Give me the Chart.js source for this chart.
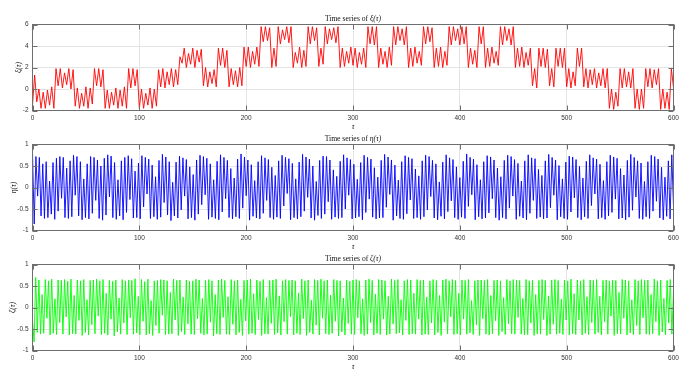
<!DOCTYPE html>
<html>
<head>
<meta charset="utf-8">
<script src="https://cdn.jsdelivr.net/npm/chart.js@4.4.1/dist/chart.umd.min.js"></script>
<style>
  html, body { margin: 0; padding: 0; background: #fff; }
  #wrap { position: relative; width: 694px; height: 379px; overflow: hidden; }
  canvas { position: absolute; left: 0; }
</style>
</head>
<body>
<div id="wrap">
  <canvas id="xi-chart"></canvas>
  <canvas id="eta-chart"></canvas>
  <canvas id="zeta-chart"></canvas>
</div>
<script>
// tau axis
const TAU_TICKS = [0, 100, 200, 300, 400, 500, 600];

const XI_STEP = 2;
const XI = [
  -1.5, 1.3, -1.2, 0.0, -1.8, -0.3, -1.8, -0.1, -1.5, 0.2,
  -1.8, 1.9, 0.3, 1.9, 0.1, 1.5, 0.4, 1.9, 0.0, 1.8,
  -1.6, 0.1, -1.8, -0.4, -1.6, 0.2, -1.8, 0.1, -1.4, 1.9,
  0.3, 1.9, 0.2, 1.8, -1.8, -0.1, -1.8, -0.3, -1.5, 0.1,
  -1.8, -0.1, -1.6, 0.2, -1.8, 1.9, 0.1, 1.9, 0.3, 1.8,
  -1.8, 0.0, -1.8, -0.4, -1.5, 0.1, -1.8, 0.0, -1.6, 1.8,
  0.2, 1.9, 0.1, 1.6, 0.4, 1.9, 0.2, 1.8, 0.4, 3.0,
  2.4, 3.8, 2.0, 3.3, 2.3, 3.8, 2.0, 3.6, 2.5, 3.7,
  0.3, 2.0, 0.2, 1.6, 0.5, 1.8, 0.2, 3.8, 2.2, 3.8,
  2.0, 3.6, 0.2, 1.9, 0.4, 1.7, 0.2, 2.0, 0.3, 3.9,
  2.1, 3.9, 2.0, 3.5, 2.3, 3.9, 2.1, 5.8, 4.4, 5.8,
  4.5, 5.7, 2.0, 3.8, 2.1, 5.8, 4.2, 5.5, 4.6, 5.8,
  4.3, 5.8, 2.0, 3.4, 2.4, 3.9, 2.0, 3.6, 2.1, 5.8,
  4.2, 5.8, 4.5, 5.7, 2.1, 3.8, 2.3, 5.8, 4.2, 5.6,
  4.6, 5.7, 4.3, 5.8, 2.0, 3.8, 2.1, 3.5, 2.4, 3.9,
  2.2, 3.8, 2.0, 3.4, 2.3, 3.8, 2.0, 5.8, 4.2, 5.8,
  4.1, 5.8, 2.0, 3.8, 2.3, 3.5, 2.0, 3.9, 2.2, 5.8,
  4.1, 5.8, 4.5, 5.6, 4.1, 5.8, 2.0, 3.8, 2.1, 3.9,
  2.4, 3.5, 2.2, 5.8, 4.2, 5.8, 4.4, 5.7, 2.0, 3.8,
  2.1, 3.9, 2.0, 3.5, 2.2, 5.8, 4.1, 5.8, 4.5, 5.6,
  4.1, 5.8, 4.2, 5.8, 2.0, 3.8, 2.3, 3.6, 2.0, 5.8,
  4.2, 5.8, 2.0, 3.8, 2.1, 3.9, 2.4, 3.5, 2.2, 5.8,
  4.1, 5.8, 4.5, 5.6, 4.1, 5.8, 2.0, 3.8, 2.1, 3.9,
  2.0, 3.4, 2.2, 3.8, 0.3, 1.9, 0.1, 3.8, 2.1, 3.8,
  2.0, 3.7, 0.3, 1.9, 0.2, 3.8, 2.1, 3.8, 2.0, 3.8,
  0.2, 1.9, 0.1, 1.6, 0.3, 3.8, 2.1, 3.8, 0.2, 1.9,
  0.1, 1.8, 0.4, 1.9, 0.1, 1.5, 0.3, 1.9, 0.1, 1.9,
  -1.8, 0.0, -1.9, -0.3, -1.6, 1.9, 0.1, 1.9, 0.2, 1.6,
  0.1, 1.9, -1.8, 0.0, -1.9, 0.0, -1.8, 1.9, 0.2, 1.9,
  0.1, 1.8, 0.4, 1.9, -1.9, 0.0, -1.8, -0.3, -1.9, 1.9,
  0.1
];
const XI_TICKS = [-2, 0, 2, 4, 6];

// eta(tau), sampled every 1.6 units of tau
const ETA_STEP = 1.6;
const ETA = [
  0.80, -0.85, 0.72, -0.20, 0.70, -0.66, 0.55, -0.72, 0.60, -0.70, 0.15, -0.62, 0.58, -0.74, 0.68, -0.55, 0.72, -0.25, 0.70, -0.70,
  0.45, -0.72, 0.62, -0.68, 0.75, -0.18, 0.72, -0.66, 0.60, -0.75, 0.20, -0.70, 0.55, -0.73, 0.72, -0.60, 0.70, -0.30, 0.64, -0.72,
  0.50, -0.76, 0.68, -0.64, 0.76, -0.22, 0.73, -0.70, 0.58, -0.74, 0.18, -0.66, 0.62, -0.75, 0.70, -0.58, 0.74, -0.28, 0.67, -0.71,
  0.38, -0.70, 0.57, -0.73, 0.74, -0.45, 0.70, -0.15, 0.66, -0.72, 0.52, -0.68, 0.25, -0.74, 0.63, -0.69, 0.77, -0.35, 0.71, -0.64,
  0.60, -0.77, 0.12, -0.66, 0.59, -0.71, 0.73, -0.52, 0.69, -0.20, 0.65, -0.73, 0.48, -0.70, 0.30, -0.76, 0.64, -0.62, 0.75, -0.40,
  0.72, -0.17, 0.68, -0.74, 0.55, -0.69, 0.18, -0.72, 0.61, -0.75, 0.76, -0.57, 0.70, -0.26, 0.63, -0.70, 0.44, -0.73, 0.22, -0.68,
  0.66, -0.72, 0.78, -0.48, 0.71, -0.19, 0.64, -0.76, 0.53, -0.67, 0.16, -0.71, 0.60, -0.73, 0.74, -0.60, 0.69, -0.30, 0.65, -0.70,
  0.47, -0.74, 0.28, -0.69, 0.62, -0.72, 0.75, -0.43, 0.70, -0.14, 0.67, -0.75, 0.56, -0.70, 0.20, -0.73, 0.59, -0.68, 0.77, -0.55,
  0.71, -0.23, 0.66, -0.71, 0.50, -0.76, 0.14, -0.65, 0.63, -0.72, 0.73, -0.62, 0.72, -0.33, 0.64, -0.74, 0.41, -0.69, 0.26, -0.72,
  0.61, -0.70, 0.76, -0.50, 0.69, -0.18, 0.65, -0.73, 0.54, -0.71, 0.19, -0.68, 0.58, -0.75, 0.75, -0.58, 0.70, -0.27, 0.66, -0.69,
  0.46, -0.73, 0.24, -0.71, 0.63, -0.70, 0.77, -0.46, 0.71, -0.16, 0.64, -0.76, 0.52, -0.66, 0.17, -0.72, 0.60, -0.74, 0.74, -0.61,
  0.70, -0.29, 0.67, -0.72, 0.43, -0.70, 0.27, -0.74, 0.62, -0.68, 0.75, -0.52, 0.72, -0.21, 0.63, -0.71, 0.55, -0.75, 0.13, -0.67,
  0.59, -0.73, 0.76, -0.56, 0.69, -0.31, 0.65, -0.70, 0.48, -0.74, 0.23, -0.69, 0.61, -0.72, 0.78, -0.44, 0.70, -0.17, 0.66, -0.75,
  0.53, -0.68, 0.18, -0.73, 0.60, -0.71, 0.74, -0.59, 0.71, -0.26, 0.64, -0.70, 0.45, -0.76, 0.25, -0.70, 0.63, -0.73, 0.75, -0.48,
  0.72, -0.20, 0.65, -0.74, 0.56, -0.67, 0.15, -0.71, 0.62, -0.75, 0.76, -0.60, 0.69, -0.30, 0.67, -0.72, 0.42, -0.69, 0.28, -0.73,
  0.62, -0.71, 0.77, -0.47, 0.70, -0.18, 0.64, -0.75, 0.51, -0.68, 0.20, -0.72, 0.59, -0.74, 0.73, -0.57, 0.71, -0.24, 0.65, -0.70,
  0.49, -0.75, 0.22, -0.68, 0.61, -0.72, 0.76, -0.42, 0.69, -0.15, 0.66, -0.73, 0.54, -0.70, 0.16, -0.74, 0.60, -0.66, 0.75, -0.58,
  0.71, -0.27, 0.68, -0.73, 0.44, -0.71, 0.29, -0.75, 0.63, -0.69, 0.77, -0.53, 0.70, -0.22, 0.62, -0.72, 0.57, -0.74, 0.14, -0.68,
  0.60, -0.72, 0.75, -0.55, 0.72, -0.32, 0.66, -0.71, 0.47, -0.75, 0.24, -0.67, 0.62, -0.73, 0.76, -0.45
];
const ETA_TICKS = [-1, -0.5, 0, 0.5, 1];

// zeta(tau), sampled every 1.5 units of tau
const ZETA_STEP = 1.5;
const ZETA = [
  -0.30, -0.80, 0.70, -0.58, 0.64, -0.62, 0.30, -0.60, 0.65, -0.25, 0.62, -0.64, 0.66, -0.60, 0.20, -0.63, 0.64, -0.35, 0.63, -0.62,
  0.65, -0.22, 0.61, -0.64, 0.66, -0.61, 0.28, -0.62, 0.64, -0.30, 0.62, -0.65, 0.65, -0.58, 0.18, -0.64, 0.63, -0.40, 0.64, -0.61,
  0.66, -0.20, 0.62, -0.63, 0.65, -0.60, 0.33, -0.64, 0.63, -0.27, 0.61, -0.66, 0.64, -0.57, 0.22, -0.62, 0.65, -0.36, 0.62, -0.63,
  0.64, -0.24, 0.63, -0.62, 0.67, -0.59, 0.26, -0.63, 0.65, -0.32, 0.60, -0.64, 0.66, -0.61, 0.16, -0.65, 0.62, -0.42, 0.63, -0.60,
  0.65, -0.18, 0.64, -0.63, 0.62, -0.62, 0.35, -0.61, 0.66, -0.29, 0.63, -0.65, 0.64, -0.56, 0.24, -0.63, 0.64, -0.38, 0.61, -0.62,
  0.62, -0.63, 0.66, -0.26, 0.64, -0.60, 0.21, -0.64, 0.63, -0.62, 0.65, -0.34, 0.62, -0.66, 0.30, -0.61, 0.64, -0.63, 0.66, -0.23,
  0.63, -0.62, 0.25, -0.63, 0.65, -0.39, 0.62, -0.64, 0.64, -0.58, 0.19, -0.65, 0.63, -0.31, 0.64, -0.62, 0.66, -0.60, 0.32, -0.63,
  0.64, -0.28, 0.61, -0.65, 0.65, -0.61, 0.23, -0.62, 0.63, -0.37, 0.64, -0.63, 0.66, -0.59, 0.27, -0.64, 0.62, -0.33, 0.65, -0.62,
  0.63, -0.21, 0.64, -0.64, 0.62, -0.60, 0.34, -0.63, 0.66, -0.26, 0.62, -0.65, 0.64, -0.58, 0.17, -0.62, 0.65, -0.41, 0.63, -0.64,
  0.66, -0.25, 0.62, -0.61, 0.64, -0.63, 0.29, -0.60, 0.65, -0.32, 0.63, -0.66, 0.62, -0.57, 0.22, -0.64, 0.64, -0.37, 0.61, -0.62,
  0.64, -0.63, 0.65, -0.24, 0.62, -0.61, 0.20, -0.65, 0.64, -0.62, 0.66, -0.35, 0.63, -0.64, 0.31, -0.60, 0.65, -0.63, 0.64, -0.27,
  0.62, -0.64, 0.26, -0.62, 0.66, -0.38, 0.63, -0.61, 0.65, -0.59, 0.18, -0.64, 0.62, -0.30, 0.65, -0.63, 0.64, -0.61, 0.33, -0.62,
  0.65, -0.27, 0.63, -0.64, 0.64, -0.62, 0.24, -0.63, 0.62, -0.36, 0.65, -0.64, 0.63, -0.58, 0.28, -0.65, 0.64, -0.34, 0.66, -0.61,
  0.62, -0.22, 0.65, -0.63, 0.63, -0.61, 0.33, -0.64, 0.64, -0.27, 0.63, -0.62, 0.65, -0.59, 0.16, -0.63, 0.62, -0.40, 0.64, -0.65,
  0.64, -0.26, 0.63, -0.62, 0.65, -0.64, 0.28, -0.61, 0.63, -0.31, 0.64, -0.65, 0.62, -0.56, 0.23, -0.63, 0.65, -0.38, 0.62, -0.61,
  0.65, -0.62, 0.64, -0.23, 0.63, -0.62, 0.21, -0.64, 0.65, -0.63, 0.62, -0.36, 0.64, -0.65, 0.30, -0.61, 0.63, -0.62, 0.65, -0.28,
  0.63, -0.65, 0.27, -0.62, 0.64, -0.39, 0.65, -0.62, 0.63, -0.60, 0.19, -0.63, 0.64, -0.29, 0.62, -0.64, 0.66, -0.61, 0.32, -0.63,
  0.64, -0.29, 0.62, -0.64, 0.65, -0.60, 0.25, -0.63, 0.64, -0.35, 0.63, -0.62, 0.65, -0.58, 0.26, -0.64, 0.63, -0.33, 0.64, -0.62,
  0.62, -0.20, 0.64, -0.65, 0.63, -0.61, 0.35, -0.62, 0.65, -0.25, 0.64, -0.64, 0.62, -0.59, 0.18, -0.63, 0.65, -0.42, 0.62, -0.63,
  0.65, -0.24, 0.63, -0.62, 0.64, -0.63, 0.30, -0.61, 0.66, -0.33, 0.62, -0.65, 0.64, -0.57, 0.21, -0.64, 0.63, -0.36, 0.65, -0.62,
  0.40
];
const ZETA_TICKS = [-1, -0.5, 0, 0.5, 1];

const BOX_COLOR = '#6e6e6e';
const GRID_COLOR = '#e4e4e4';
const LABEL_COLOR = '#333333';
const SERIF = '"Liberation Serif", "DejaVu Serif", serif';
const SANS = '"Liberation Sans", Arial, sans-serif';

// title, axis labels, box and inward ticks (matlab style)
const panelText = {
  id: 'panelText',
  afterDatasetsDraw(chart, args, opts) {
    const { ctx, chartArea: a, scales } = chart;
    ctx.save();

    ctx.strokeStyle = BOX_COLOR;
    ctx.lineWidth = 1;
    ctx.beginPath();
    scales.x.ticks.forEach((t) => {
      const px = Math.round(scales.x.getPixelForValue(t.value)) + 0.5;
      ctx.moveTo(px, a.bottom); ctx.lineTo(px, a.bottom - 5);
      ctx.moveTo(px, a.top); ctx.lineTo(px, a.top + 5);
    });
    scales.y.ticks.forEach((t) => {
      const py = Math.round(scales.y.getPixelForValue(t.value)) + 0.5;
      ctx.moveTo(a.left, py); ctx.lineTo(a.left + 5, py);
      ctx.moveTo(a.right, py); ctx.lineTo(a.right - 5, py);
    });
    ctx.stroke();
    ctx.strokeRect(a.left, a.top, a.right - a.left, a.bottom - a.top);

    ctx.fillStyle = '#111';
    ctx.textBaseline = 'middle';
    const cx = (a.left + a.right) / 2;

    // title: upright words, italic math
    ctx.font = `7.6px ${SERIF}`;
    const words = 'Time series of ';
    const w1 = ctx.measureText(words).width;
    ctx.font = `italic 7.6px ${SERIF}`;
    const w2 = ctx.measureText(opts.name).width;
    const x0 = cx - (w1 + w2) / 2;
    ctx.textAlign = 'left';
    ctx.font = `7.6px ${SERIF}`;
    ctx.fillText(words, x0, a.top - 5.5);
    ctx.font = `italic 7.6px ${SERIF}`;
    ctx.fillText(opts.name, x0 + w1, a.top - 5.5);

    // x label
    ctx.textAlign = 'center';
    ctx.fillText('τ', cx, a.bottom + 16.5);

    // y label
    ctx.translate(opts.yLabelX, (a.top + a.bottom) / 2);
    ctx.rotate(-Math.PI / 2);
    ctx.fillText(opts.name, 0, 0);
    ctx.restore();
  }
};

const makePanel = (id, top, height, padTop, axisBottom, values, step, yTicks, color, name, yLabelX) => {
  const canvas = document.getElementById(id);
  canvas.width = 694;
  canvas.height = height;
  canvas.style.top = `${top}px`;
  const points = values.map((v, i) => ({ x: i * step, y: v }));

  const config = {
    type: 'line',
    data: {
      datasets: [
        {
          data: points,
          borderColor: color,
          borderWidth: 0.9,
          pointRadius: 0,
          tension: 0,
          fill: false,
        },
      ],
    },
    options: {
      responsive: false,
      animation: false,
      events: [],
      layout: { padding: { left: 0, right: 20.5, top: padTop, bottom: 0 } },
      plugins: {
        legend: { display: false },
        tooltip: { enabled: false },
        panelText: { name: name, yLabelX: yLabelX },
      },
      scales: {
        x: {
          type: 'linear',
          min: TAU_TICKS[0],
          max: TAU_TICKS[TAU_TICKS.length - 1],
          afterBuildTicks: (scale) => { scale.ticks = TAU_TICKS.map((v) => ({ value: v })); },
          afterFit: (scale) => { scale.height = height - axisBottom; },
          grid: { color: GRID_COLOR, drawTicks: false, lineWidth: 1 },
          border: { display: false },
          ticks: { color: LABEL_COLOR, font: { family: SANS, size: 6.5 }, padding: 4, maxRotation: 0 },
        },
        y: {
          type: 'linear',
          min: yTicks[0],
          max: yTicks[yTicks.length - 1],
          afterBuildTicks: (scale) => { scale.ticks = yTicks.map((v) => ({ value: v })); },
          afterFit: (scale) => { scale.width = 32.5; },
          grid: { color: GRID_COLOR, drawTicks: false, lineWidth: 1 },
          border: { display: false },
          ticks: { color: LABEL_COLOR, font: { family: SANS, size: 6.5 }, padding: 4, callback: (v) => String(v) },
        },
      },
    },
    plugins: [panelText],
  };

  new Chart(canvas, config);
};

makePanel('xi-chart', 0, 130, 24.5, 110.5, XI, XI_STEP, XI_TICKS, '#ff0000', 'ξ(τ)', 19);
makePanel('eta-chart', 128, 124, 16.5, 102.5, ETA, ETA_STEP, ETA_TICKS, '#0000ff', 'η(τ)', 14);
makePanel('zeta-chart', 250, 129, 14.5, 100.5, ZETA, ZETA_STEP, ZETA_TICKS, '#00ff00', 'ζ(τ)', 12.5);
</script>
</body>
</html>
